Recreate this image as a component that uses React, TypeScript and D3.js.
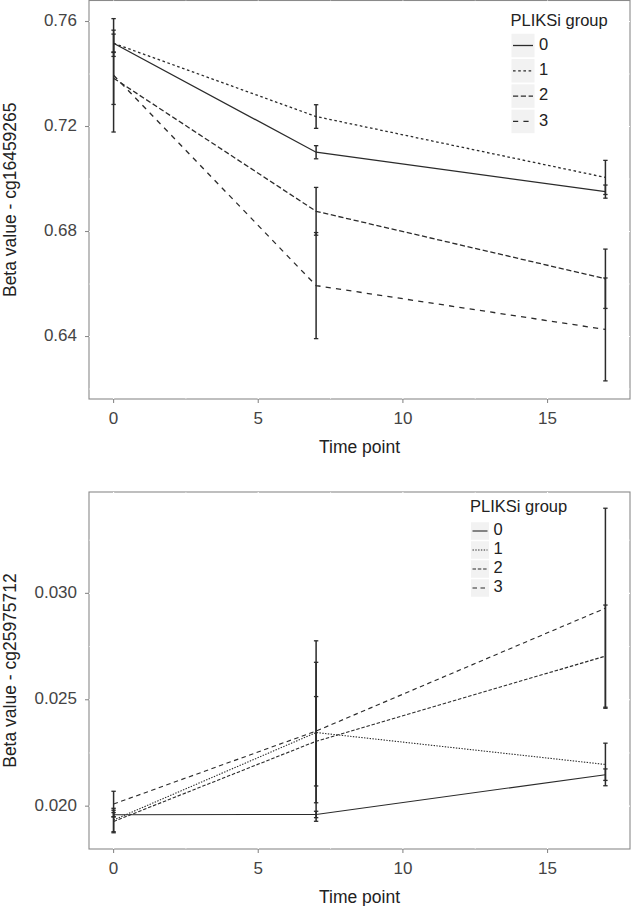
import React from "react";
import * as d3 from "d3";

// ---------- data ----------
const timePoints = [0, 7, 17];
const groupLabels = ["0", "1", "2", "3"];
const xTicks = [0, 5, 10, 15];

// Top panel: cg16459265
const topMeanG0 = [0.7517, 0.7102, 0.6952];
const topSeG0 = [0.005, 0.0025, 0.0025];
const topMeanG1 = [0.7517, 0.7238, 0.7006];
const topSeG1 = [0.0035, 0.0045, 0.0065];
const topMeanG2 = [0.7384, 0.6877, 0.662];
const topSeG2 = [0.01, 0.0091, 0.0113];
const topMeanG3 = [0.7395, 0.6594, 0.6427];
const topSeG3 = [0.0216, 0.0202, 0.0196];
const topYTicks = [0.64, 0.68, 0.72, 0.76];
const topYMinor = [0.62, 0.66, 0.7, 0.74];

// Bottom panel: cg25975712
const botMeanG0 = [0.0196, 0.01961, 0.02148];
const botSeG0 = [0.0001, 0.00015, 0.00027];
const botMeanG1 = [0.01935, 0.02346, 0.02196];
const botSeG1 = [0.00055, 0.0033, 0.001];
const botMeanG2 = [0.01928, 0.02305, 0.02705];
const botSeG2 = [0.00053, 0.0021, 0.0024];
const botMeanG3 = [0.0201, 0.02353, 0.0293];
const botSeG3 = [0.0006, 0.00424, 0.0047];
const botYTicks = [0.02, 0.025, 0.03];
const botYMinor = [0.0225, 0.0275, 0.0325];

const FONT = "'Liberation Sans', Arial, Helvetica, sans-serif";

type Series = { label: string; mean: number[]; se: number[] };

type PanelProps = {
  x0: number; x1: number; y0: number; y1: number;
  series: Series[];
  yTicks: number[]; yMinor: number[]; yFmt: (v: number) => string;
  yTitle: string;
  dashes: string[];
  lineWidth: number;
  legend: { x: number; y: number; keyW: number; keyH: number; step: number; titleGap: number };
};

function Panel(p: PanelProps) {
  const allVals: number[] = [];
  p.series.forEach((s) => s.mean.forEach((m, i) => { allVals.push(m - s.se[i]); allVals.push(m + s.se[i]); }));
  const [mn, mx] = d3.extent(allVals) as [number, number];
  const ex = (mx - mn) * 0.05;
  const xr = 17 * 0.05;
  const x = d3.scaleLinear().domain([0 - xr, 17 + xr]).range([p.x0, p.x1]);
  const y = d3.scaleLinear().domain([mn - ex, mx + ex]).range([p.y1, p.y0]);
  const line = d3.line<number>().x((_, i) => x(timePoints[i])).y((d) => y(d));
  const xMinor = [2.5, 7.5, 12.5];
  const grey = "#8a8a8a";
  const ink = "#2b2b2b";
  const cap = 2.2;
  const L = p.legend;
  return (
    <g>
      <rect x={p.x0} y={p.y0} width={p.x1 - p.x0} height={p.y1 - p.y0} fill="#fff" stroke={grey} strokeWidth={1.1} />
      {/* grid lines (white, only visible on border) */}
      {xTicks.map((t) => (
        <line key={"gx" + t} x1={x(t)} x2={x(t)} y1={p.y0} y2={p.y1} stroke="#fff" strokeWidth={1.1} />
      ))}
      {xMinor.map((t) => (
        <line key={"gxm" + t} x1={x(t)} x2={x(t)} y1={p.y0} y2={p.y1} stroke="#fff" strokeWidth={0.6} />
      ))}
      {p.yTicks.map((t) => (
        <line key={"gy" + t} x1={p.x0} x2={p.x1} y1={y(t)} y2={y(t)} stroke="#fff" strokeWidth={1.1} />
      ))}
      {p.yMinor.filter((t) => y(t) > p.y0 && y(t) < p.y1).map((t) => (
        <line key={"gym" + t} x1={p.x0} x2={p.x1} y1={y(t)} y2={y(t)} stroke="#fff" strokeWidth={0.6} />
      ))}
      {/* ticks */}
      {xTicks.map((t) => (
        <g key={"xt" + t}>
          <line x1={x(t)} x2={x(t)} y1={p.y1} y2={p.y1 + 4} stroke={grey} strokeWidth={1.1} />
          <text x={x(t)} y={p.y1 + 21} textAnchor="middle" dominantBaseline="middle" fontSize={17} fill="#444" fontFamily={FONT}>{t}</text>
        </g>
      ))}
      {p.yTicks.map((t) => (
        <g key={"yt" + t}>
          <line x1={p.x0 - 4} x2={p.x0} y1={y(t)} y2={y(t)} stroke={grey} strokeWidth={1.1} />
          <text x={p.x0 - 12} y={y(t)} textAnchor="end" dominantBaseline="middle" fontSize={17} fill="#444" fontFamily={FONT}>{p.yFmt(t)}</text>
        </g>
      ))}
      {/* axis titles */}
      <text x={(p.x0 + p.x1) / 2} y={p.y1 + 49} textAnchor="middle" dominantBaseline="middle" fontSize={17.5} fill="#222" fontFamily={FONT}>Time point</text>
      <text transform={`translate(11,${(p.y0 + p.y1) / 2}) rotate(-90)`} textAnchor="middle" dominantBaseline="middle" fontSize={17.5} fill="#222" fontFamily={FONT}>{p.yTitle}</text>
      {/* lines */}
      {p.series.map((s, gi) => (
        <path key={"l" + gi} d={line(s.mean) || ""} fill="none" stroke={ink} strokeWidth={p.lineWidth} strokeDasharray={p.dashes[gi] || undefined} />
      ))}
      {/* error bars */}
      {p.series.map((s, gi) => (
        <g key={"e" + gi}>
          {s.mean.map((m, i) => {
            const cx = x(timePoints[i]);
            const lo = y(m - s.se[i]);
            const hi = y(m + s.se[i]);
            return (
              <g key={i}>
                <line x1={cx} x2={cx} y1={lo} y2={hi} stroke={ink} strokeWidth={1.5} />
                <line x1={cx - cap} x2={cx + cap} y1={lo} y2={lo} stroke={ink} strokeWidth={1.3} />
                <line x1={cx - cap} x2={cx + cap} y1={hi} y2={hi} stroke={ink} strokeWidth={1.3} />
              </g>
            );
          })}
        </g>
      ))}
      {/* legend */}
      <text x={L.x - 1} y={L.y} dominantBaseline="middle" fontSize={16.5} fill="#222" fontFamily={FONT}>PLIKSi group</text>
      {p.series.map((s, gi) => {
        const cy = L.y + L.titleGap + gi * L.step;
        return (
          <g key={"lg" + gi}>
            <rect x={L.x} y={cy - L.keyH / 2} width={L.keyW} height={L.keyH} fill="#f2f2f2" />
            <line x1={L.x + 1.5} x2={L.x + L.keyW - 1.5} y1={cy} y2={cy} stroke={ink} strokeWidth={p.lineWidth} strokeDasharray={p.dashes[gi] || undefined} />
            <text x={L.x + L.keyW + 4.5} y={cy} dominantBaseline="middle" fontSize={16.5} fill="#222" fontFamily={FONT}>{s.label}</text>
          </g>
        );
      })}
    </g>
  );
}

export default function App() {
  const topSeries: Series[] = [
    { label: groupLabels[0], mean: topMeanG0, se: topSeG0 },
    { label: groupLabels[1], mean: topMeanG1, se: topSeG1 },
    { label: groupLabels[2], mean: topMeanG2, se: topSeG2 },
    { label: groupLabels[3], mean: topMeanG3, se: topSeG3 },
  ];
  const botSeries: Series[] = [
    { label: groupLabels[0], mean: botMeanG0, se: botSeG0 },
    { label: groupLabels[1], mean: botMeanG1, se: botSeG1 },
    { label: groupLabels[2], mean: botMeanG2, se: botSeG2 },
    { label: groupLabels[3], mean: botMeanG3, se: botSeG3 },
  ];
  return (
    <svg width={631} height={906} style={{ position: "absolute", left: 0, top: 0, background: "#fff" }}>
      <Panel
        x0={89} x1={630} y0={0.5} y1={399}
        series={topSeries}
        yTicks={topYTicks} yMinor={topYMinor} yFmt={d3.format(".2f")}
        yTitle="Beta value - cg16459265"
        dashes={["", "2.6,2.6", "5.2,2.6", "5.2,5.2"]}
        lineWidth={1.3}
        legend={{ x: 511.5, y: 22, keyW: 23, keyH: 23.5, step: 25.3, titleGap: 23.5 }}
      />
      <Panel
        x0={89} x1={630} y0={492} y1={849}
        series={botSeries}
        yTicks={botYTicks} yMinor={botYMinor} yFmt={d3.format(".3f")}
        yTitle="Beta value - cg25975712"
        dashes={["", "1.4,1.4", "3.5,1.8", "4.5,3.5"]}
        lineWidth={1.1}
        legend={{ x: 471, y: 508, keyW: 18, keyH: 17.5, step: 19, titleGap: 23 }}
      />
    </svg>
  );
}
